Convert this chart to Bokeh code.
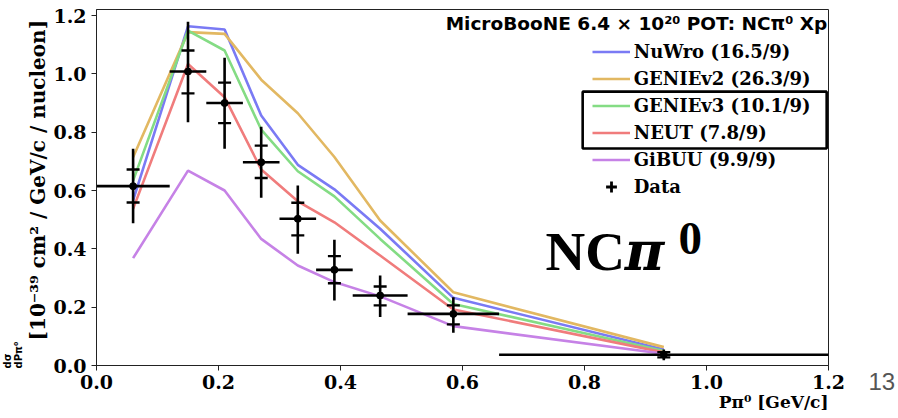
import math
from bokeh.plotting import figure
from bokeh.models import (Range1d, FixedTicker, NumeralTickFormatter, Label, Title,
                          BoxAnnotation, Legend, LegendItem, LinearAxis)
from bokeh.embed import file_html
from bokeh.resources import INLINE

# ---------------- data ----------------
x_ticks = [0.0, 0.2, 0.4, 0.6, 0.8, 1.0, 1.2]
y_ticks = [0.0, 0.2, 0.4, 0.6, 0.8, 1.0, 1.2]

bin_lo = [0.00, 0.12, 0.18, 0.24, 0.30, 0.36, 0.42, 0.51, 0.66]
bin_hi = [0.12, 0.18, 0.24, 0.30, 0.36, 0.42, 0.51, 0.66, 1.20]
bin_center = [0.06, 0.15, 0.21, 0.27, 0.33, 0.39, 0.465, 0.585, 0.93]

data_xsec = [0.615, 1.008, 0.900, 0.697, 0.503, 0.328, 0.240, 0.177, 0.037]
total_lo = [0.488, 0.834, 0.743, 0.575, 0.383, 0.223, 0.166, 0.112, 0.018]
total_hi = [0.743, 1.179, 1.055, 0.819, 0.617, 0.431, 0.309, 0.234, 0.055]
stat_lo = [0.559, 0.933, 0.831, 0.643, 0.446, 0.282, 0.206, 0.141, 0.028]
stat_hi = [0.672, 1.080, 0.970, 0.754, 0.558, 0.375, 0.271, 0.206, 0.046]

nuwro = [0.566, 1.163, 1.152, 0.857, 0.688, 0.604, 0.469, 0.232, 0.055]
genie_v2 = [0.714, 1.143, 1.137, 0.980, 0.865, 0.715, 0.497, 0.251, 0.063]
genie_v3 = [0.634, 1.148, 1.080, 0.809, 0.666, 0.580, 0.434, 0.211, 0.050]
neut = [0.537, 1.034, 0.920, 0.672, 0.563, 0.491, 0.377, 0.192, 0.045]
gibuu = [0.368, 0.668, 0.600, 0.434, 0.343, 0.286, 0.237, 0.135, 0.040]

model_labels = ["NuWro (16.5/9)", "GENIEv2 (26.3/9)", "GENIEv3 (10.1/9)",
                "NEUT (7.8/9)", "GiBUU (9.9/9)"]
model_values = [nuwro, genie_v2, genie_v3, neut, gibuu]
model_colors = ["#7a7af4", "#e2b862", "#84dc84", "#f07c7c", "#c682e6"]
data_label = "Data"
page_number = "13"

# ---------------- figure ----------------
p = figure(width=898, height=418, output_backend="svg", toolbar_location=None,
           x_range=Range1d(0, 1.2), y_range=Range1d(0, 1.2206),
           min_border_left=96, min_border_right=70, min_border_top=9,
           min_border_bottom=53)
p.background_fill_color = "white"
p.border_fill_color = "white"
p.outline_line_color = "#222222"
p.outline_line_width = 1
p.xgrid.visible = False
p.ygrid.visible = False

for ax, ticks in ((p.xaxis, x_ticks), (p.yaxis, y_ticks)):
    ax.ticker = FixedTicker(ticks=ticks)
    ax.formatter = NumeralTickFormatter(format="0.0")
    ax.minor_tick_line_color = None
    ax.major_tick_in = 0
    ax.major_tick_out = 5
    ax.major_tick_line_color = "#222222"
    ax.axis_line_color = "#222222"
    ax.major_label_text_font = "DejaVu Serif"
    ax.major_label_text_font_style = "bold"
    ax.major_label_text_font_size = "19px"
    ax.major_label_text_color = "black"
p.xaxis.major_label_standoff = 4
p.yaxis.major_label_standoff = 5

# models
model_renderers = []
for vals, col in zip(model_values, model_colors):
    r = p.line(bin_center, vals, line_color=col, line_width=2.6)
    model_renderers.append(r)

# data with error bars
p.segment(x0=bin_lo, y0=data_xsec, x1=bin_hi, y1=data_xsec, line_color="black", line_width=2.6)
p.segment(x0=bin_center, y0=total_lo, x1=bin_center, y1=total_hi, line_color="black", line_width=2.6)
p.scatter(bin_center, stat_lo, marker="dash", size=13, line_color="black", line_width=2.4)
p.scatter(bin_center, stat_hi, marker="dash", size=13, line_color="black", line_width=2.4)
p.scatter(bin_center, data_xsec, marker="circle", size=7, fill_color="black", line_color="black")
data_r = p.scatter(bin_center, data_xsec, marker="cross", size=0.1, line_color="black", line_width=2.8)

# legend
items = [LegendItem(label=l, renderers=[r]) for l, r in zip(model_labels, model_renderers)]
items.append(LegendItem(label=data_label, renderers=[data_r]))
legend = Legend(items=items, location=(495.7, 164.8), margin=0, padding=0,
                spacing=0, glyph_width=38, glyph_height=27, label_height=27,
                label_standoff=4, background_fill_alpha=0, border_line_alpha=0,
                label_text_font="DejaVu Serif", label_text_font_style="bold",
                label_text_font_size="18px", label_text_color="black")
p.add_layout(legend)

box = BoxAnnotation(left=0.797, right=1.197, top=0.939, bottom=0.744,
                    fill_alpha=0, line_color="black", line_alpha=1, line_width=2.6)
p.add_layout(box)

p.add_layout(Label(x=1.198, y=1.172, text="MicroBooNE 6.4 × 10²⁰ POT: NCπ⁰ Xp",
                   text_align="right", text_baseline="middle",
                   text_font="DejaVu Sans", text_font_style="bold",
                   text_font_size="18.5px", text_color="black"))

# big channel label
p.add_layout(Label(x=0.736, y=0.391, text="NC", text_font="Liberation Serif",
                   text_font_style="bold", text_font_size="55px",
                   text_baseline="alphabetic", text_color="black"))
p.add_layout(Label(x=0.866, y=0.391, text="π", text_font="DejaVu Serif",
                   text_font_style="bold italic", text_font_size="54px",
                   text_baseline="alphabetic", text_color="black"))
p.add_layout(Label(x=0.954, y=0.437, text="0", text_font="Liberation Serif",
                   text_font_style="bold", text_font_size="47px",
                   text_baseline="alphabetic", text_color="black"))

# y axis label (side panel titles)
p.add_layout(Title(text="[10⁻³⁹ cm² / GeV/c / nucleon]", align="left", offset=25,
                   vertical_align="middle", standoff=0,
                   text_font="DejaVu Serif", text_font_style="bold",
                   text_font_size="20px", text_color="black"), "left")
p.add_layout(Title(text="dσ\ndPπ⁰", align="left", offset=-3,
                   vertical_align="middle", standoff=0,
                   text_font="DejaVu Sans", text_font_style="bold",
                   text_font_size="10px", text_color="black"), "left")

# x axis label
p.add_layout(Title(text="Pπ⁰ [GeV/c]", align="right", offset=0,
                   vertical_align="top", standoff=0,
                   text_font="DejaVu Serif", text_font_style="bold",
                   text_font_size="17px", text_color="black"), "below")

# slide number in the right margin (label of a bare right axis)
page_axis = LinearAxis(ticker=FixedTicker(ticks=[0.0]),
                       major_label_overrides={0: "\n" + page_number},
                       axis_line_color=None, major_tick_line_color=None,
                       minor_tick_line_color=None, major_label_standoff=34,
                       major_label_text_font="Liberation Sans",
                       major_label_text_font_size="24px",
                       major_label_text_color="#555555")
p.add_layout(page_axis, "right")

open("out.html", "w").write(file_html(p, INLINE))
